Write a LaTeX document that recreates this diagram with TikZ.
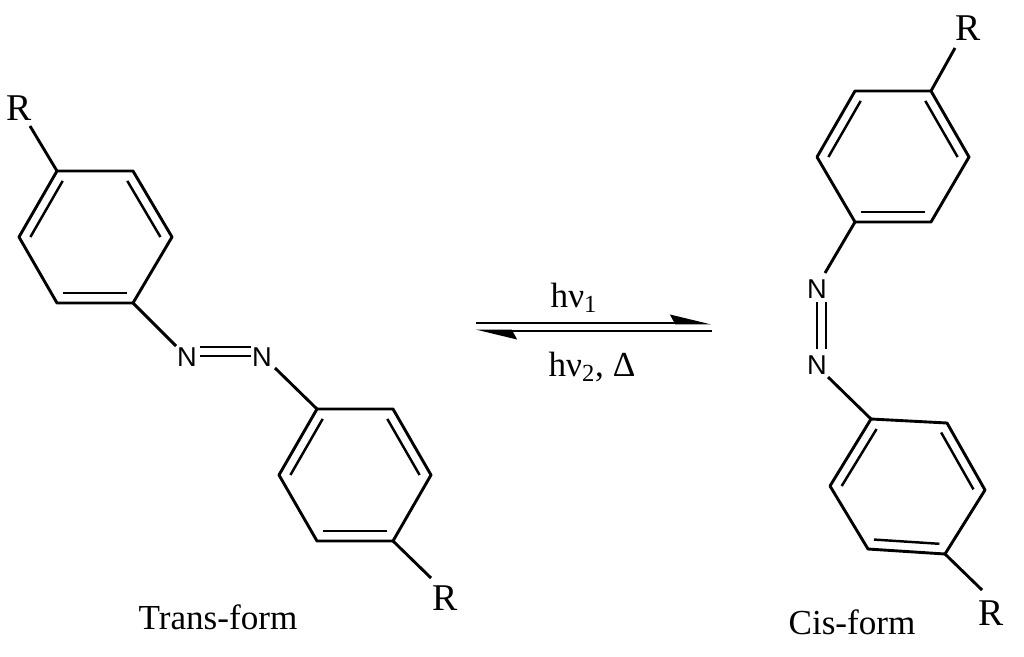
\documentclass[tikz,border=0pt]{standalone}
\usepackage{fontspec}
\setmainfont{Liberation Serif}
\newfontfamily\atomfont{Liberation Sans}
\usetikzlibrary{arrows.meta,calc}
\tikzset{
	bond/.style={line width=1.65pt},
	inbond/.style={line width=1.4pt},
	eqarrow/.style={line width=1.55pt},
	atom/.style={font=\atomfont\fontsize{15.5}{16}\selectfont,inner sep=0pt},
	group/.style={font=\fontsize{21.5}{22}\selectfont,inner sep=0pt},
	caption/.style={font=\fontsize{20}{22}\selectfont,inner sep=0pt}
}
\begin{document}
\begin{tikzpicture}[x=0.02cm,y=-0.02cm]
	\useasboundingbox (0,0) rectangle (1024,656);
	% trans, upper ring
	\coordinate (a1) at (57,171);
	\coordinate (a2) at (133,171);
	\coordinate (a3) at (172,237);
	\coordinate (a4) at (133,303);
	\coordinate (a5) at (57,303);
	\coordinate (a6) at (19,237);
	\coordinate (ac) at (95,237);
	\draw[bond,line join=round] (a1) -- (a2) -- (a3) -- (a4) -- (a5) -- (a6) -- cycle;
	\draw[inbond] ($(ac)!.85!(a1)$) -- ($(ac)!.85!(a6)$);
	\draw[inbond] ($(ac)!.85!(a2)$) -- ($(ac)!.85!(a3)$);
	\draw[inbond] ($(ac)!.85!(a4)$) -- ($(ac)!.85!(a5)$);
	% trans, lower ring
	\coordinate (b1) at (317,409);
	\coordinate (b2) at (393,409);
	\coordinate (b3) at (431,475);
	\coordinate (b4) at (393,541);
	\coordinate (b5) at (317,541);
	\coordinate (b6) at (279,475);
	\coordinate (bc) at (355,475);
	\draw[bond,line join=round] (b1) -- (b2) -- (b3) -- (b4) -- (b5) -- (b6) -- cycle;
	\draw[inbond] ($(bc)!.85!(b1)$) -- ($(bc)!.85!(b6)$);
	\draw[inbond] ($(bc)!.85!(b2)$) -- ($(bc)!.85!(b3)$);
	\draw[inbond] ($(bc)!.85!(b4)$) -- ($(bc)!.85!(b5)$);
	% trans, azo bridge
	\node[atom] (n1) at (187,357) {N};
	\node[atom] (n2) at (262,357) {N};
	\node[group] (r1) at (19,108) {R};
	\node[group] (r2) at (445,598) {R};
	\coordinate (h1) at (176,346);
	\coordinate (h2) at (275,368);
	\coordinate (h3) at (30,126);
	\coordinate (h4) at (431,578);
	\draw[bond] (a4) -- (h1);
	\draw[bond] (h2) -- (b1);
	\draw[bond] (h3) -- (a1);
	\draw[bond] (b4) -- (h4);
	\coordinate (d1) at (200,347);
	\coordinate (d2) at (251,347);
	\coordinate (d3) at (200,356);
	\coordinate (d4) at (251,356);
	\draw[inbond] (d1) -- (d2);
	\draw[inbond] (d3) -- (d4);
	% cis, upper ring
	\coordinate (c1) at (855,91);
	\coordinate (c2) at (931,91);
	\coordinate (c3) at (969,157);
	\coordinate (c4) at (931,222);
	\coordinate (c5) at (855,222);
	\coordinate (c6) at (817,157);
	\coordinate (cc) at (893,157);
	\draw[bond,line join=round] (c1) -- (c2) -- (c3) -- (c4) -- (c5) -- (c6) -- cycle;
	\draw[inbond] ($(cc)!.85!(c1)$) -- ($(cc)!.85!(c6)$);
	\draw[inbond] ($(cc)!.85!(c2)$) -- ($(cc)!.85!(c3)$);
	\draw[inbond] ($(cc)!.85!(c4)$) -- ($(cc)!.85!(c5)$);
	% cis, lower ring
	\coordinate (e1) at (871,419);
	\coordinate (e2) at (947,423);
	\coordinate (e3) at (985,490);
	\coordinate (e4) at (945,554);
	\coordinate (e5) at (868,549);
	\coordinate (e6) at (830,486);
	\coordinate (ec) at (908,486);
	\draw[bond,line join=round] (e1) -- (e2) -- (e3) -- (e4) -- (e5) -- (e6) -- cycle;
	\draw[inbond] ($(ec)!.85!(e1)$) -- ($(ec)!.85!(e6)$);
	\draw[inbond] ($(ec)!.85!(e2)$) -- ($(ec)!.85!(e3)$);
	\draw[inbond] ($(ec)!.85!(e4)$) -- ($(ec)!.85!(e5)$);
	% cis, azo bridge
	\node[atom] (n3) at (817,289) {N};
	\node[atom] (n4) at (817,365) {N};
	\node[group] (r3) at (968,28) {R};
	\node[group] (r4) at (991,613) {R};
	\coordinate (k1) at (825,273);
	\coordinate (k2) at (828,377);
	\coordinate (k3) at (955,48);
	\coordinate (k4) at (982,590);
	\draw[bond] (c5) -- (k1);
	\draw[bond] (k2) -- (e1);
	\draw[bond] (c2) -- (k3);
	\draw[bond] (e4) -- (k4);
	\coordinate (f1) at (817,302);
	\coordinate (f2) at (817,349);
	\coordinate (f3) at (826,302);
	\coordinate (f4) at (826,349);
	\draw[inbond] (f1) -- (f2);
	\draw[inbond] (f3) -- (f4);
	% equilibrium arrows
	\coordinate (g1) at (476,323);
	\coordinate (g2) at (711,323);
	\coordinate (g3) at (712,331);
	\coordinate (g4) at (476,331);
	\draw[eqarrow,-{Stealth[left,length=20pt,width=9.5pt,inset=2.5pt]}] (g1) -- (g2);
	\draw[eqarrow,-{Stealth[left,length=20pt,width=9.5pt,inset=2.5pt]}] (g3) -- (g4);
	\node[caption] (up) at (574,298) {hν\textsubscript{1}};
	\node[caption] (down) at (592,367) {hν\textsubscript{2}, Δ};
	\node[caption] (trans) at (218,617) {Trans-form};
	\node[caption] (cis) at (852,622) {Cis-form};
\end{tikzpicture}
\end{document}
